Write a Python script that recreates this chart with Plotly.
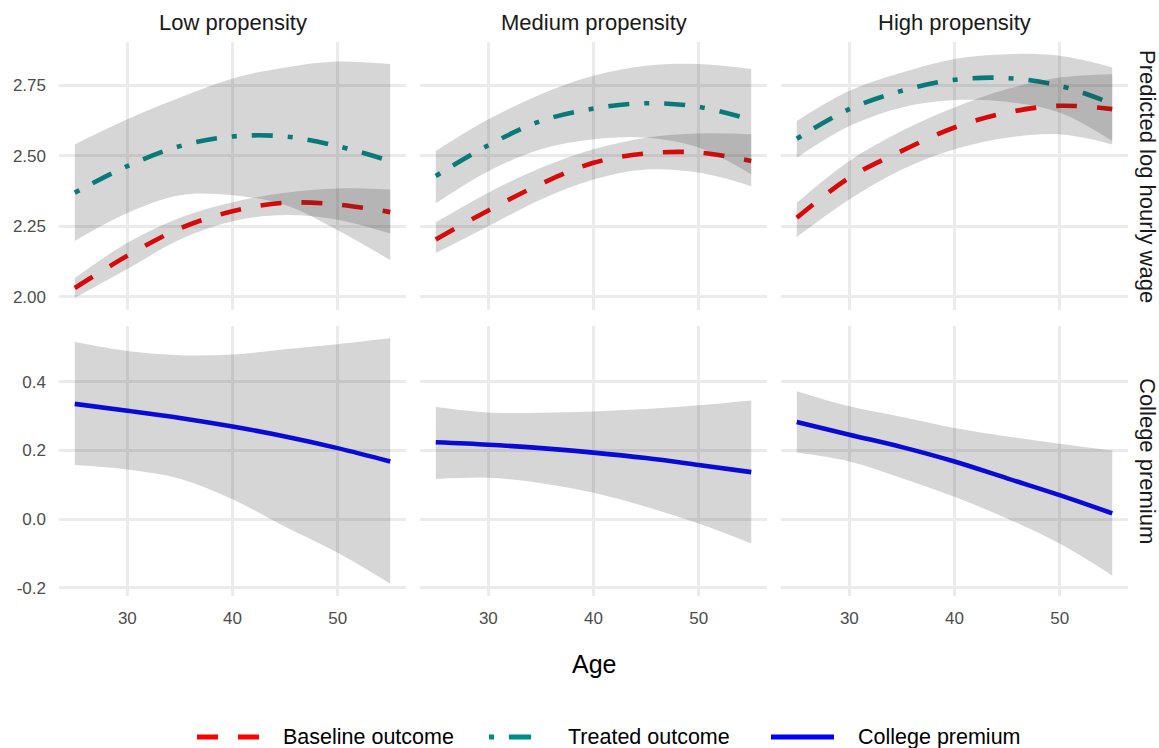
import plotly.graph_objects as go
from plotly.subplots import make_subplots

# ---- data -----------------------------------------------------------------
ages = [25, 30, 35, 40, 45, 50, 55]
groups = ["Low propensity", "Medium propensity", "High propensity"]
row_labels = ["Predicted log hourly wage", "College premium"]

# predicted log hourly wage without college (one list per propensity group)
baseline_fit = [
    [2.031, 2.145, 2.242, 2.303, 2.333, 2.327, 2.300],
    [2.203, 2.306, 2.400, 2.475, 2.508, 2.511, 2.481],
    [2.280, 2.422, 2.517, 2.600, 2.653, 2.677, 2.665],
]
baseline_lo = [
    [1.996, 2.098, 2.203, 2.268, 2.290, 2.273, 2.224],
    [2.155, 2.250, 2.345, 2.416, 2.451, 2.440, 2.392],
    [2.212, 2.345, 2.451, 2.523, 2.564, 2.576, 2.540],
]
baseline_hi = [
    [2.066, 2.191, 2.280, 2.335, 2.369, 2.384, 2.380],
    [2.264, 2.369, 2.457, 2.523, 2.564, 2.579, 2.576],
    [2.333, 2.481, 2.588, 2.671, 2.736, 2.777, 2.789],
]

# predicted log hourly wage with college
treated_fit = [
    [2.369, 2.463, 2.534, 2.568, 2.568, 2.534, 2.481],
    [2.428, 2.537, 2.623, 2.667, 2.686, 2.673, 2.627],
    [2.560, 2.665, 2.730, 2.769, 2.775, 2.748, 2.684],
]
treated_lo = [
    [2.198, 2.297, 2.360, 2.360, 2.325, 2.236, 2.130],
    [2.331, 2.445, 2.523, 2.558, 2.564, 2.529, 2.434],
    [2.493, 2.605, 2.671, 2.697, 2.691, 2.653, 2.552],
]
treated_hi = [
    [2.540, 2.629, 2.706, 2.774, 2.813, 2.834, 2.825],
    [2.517, 2.629, 2.718, 2.783, 2.819, 2.825, 2.807],
    [2.623, 2.730, 2.795, 2.843, 2.860, 2.854, 2.813],
]

# college premium (treated minus baseline)
premium_fit = [
    [0.336, 0.316, 0.295, 0.270, 0.241, 0.207, 0.168],
    [0.224, 0.217, 0.207, 0.194, 0.178, 0.158, 0.137],
    [0.283, 0.246, 0.210, 0.168, 0.119, 0.070, 0.017],
]
premium_lo = [
    [0.158, 0.145, 0.118, 0.058, -0.022, -0.098, -0.188],
    [0.117, 0.121, 0.105, 0.077, 0.036, -0.013, -0.071],
    [0.194, 0.168, 0.119, 0.065, 0.002, -0.071, -0.164],
]
premium_hi = [
    [0.516, 0.490, 0.478, 0.480, 0.495, 0.510, 0.527],
    [0.327, 0.311, 0.310, 0.314, 0.321, 0.332, 0.346],
    [0.373, 0.329, 0.298, 0.266, 0.241, 0.220, 0.200],
]

x_ticks = [30, 40, 50]
wage_ticks = [2.00, 2.25, 2.50, 2.75]
wage_ticktext = ["2.00", "2.25", "2.50", "2.75"]
premium_ticks = [-0.2, 0.0, 0.2, 0.4]
premium_ticktext = ["-0.2", "0.0", "0.2", "0.4"]

series_names = ["Baseline outcome", "Treated outcome", "College premium"]

# ---- styling ----------------------------------------------------------------
W, H = 1159, 748
FONT = "Liberation Sans, Arial, sans-serif"
RED, TEAL, BLUE = "#FF0000", "#008B8B", "#0000FF"
RIBBON = "rgba(51,51,51,0.2)"
GRID = "#EBEBEB"
LW = 4.6
DASH_RED = "21px,20px"
DASH_TEAL = "5px,15px,21px,15px"

col_px = [(59, 406), (420, 767), (781, 1128)]
row_px = [(42, 310), (326, 596)]


def xdom(c):
    return [col_px[c][0] / W, col_px[c][1] / W]


def ydom(r):
    return [1 - row_px[r][1] / H, 1 - row_px[r][0] / H]


fig = make_subplots(rows=2, cols=3)


def add_line(y, color, dash, row, col):
    fig.add_trace(
        go.Scatter(
            x=ages, y=y, mode="lines", showlegend=False, hoverinfo="skip",
            line=dict(color=color, width=LW, dash=dash, shape="spline"),
        ),
        row=row, col=col,
    )


def add_ribbon(lo, hi, row, col):
    fig.add_trace(
        go.Scatter(
            x=ages, y=lo, mode="lines", showlegend=False, hoverinfo="skip",
            line=dict(width=0, shape="spline", color="rgba(0,0,0,0)"),
        ),
        row=row, col=col,
    )
    fig.add_trace(
        go.Scatter(
            x=ages, y=hi, mode="lines", showlegend=False, hoverinfo="skip",
            fill="tonexty", fillcolor=RIBBON,
            line=dict(width=0, shape="spline", color="rgba(0,0,0,0)"),
        ),
        row=row, col=col,
    )


for c in range(3):
    # top row: predicted wages with confidence ribbons drawn over the lines
    add_line(baseline_fit[c], RED, DASH_RED, 1, c + 1)
    add_line(treated_fit[c], TEAL, DASH_TEAL, 1, c + 1)
    add_ribbon(baseline_lo[c], baseline_hi[c], 1, c + 1)
    add_ribbon(treated_lo[c], treated_hi[c], 1, c + 1)
    # bottom row: college premium
    add_line(premium_fit[c], BLUE, None, 2, c + 1)
    add_ribbon(premium_lo[c], premium_hi[c], 2, c + 1)

axis_common = dict(
    showgrid=True, gridcolor=GRID, gridwidth=3, zeroline=False,
    showline=False, ticks="", automargin=False,
    tickfont=dict(family=FONT, size=17, color="#4D4D4D"),
)

for r in range(2):
    for c in range(3):
        fig.update_xaxes(
            domain=xdom(c), range=[23.5, 56.5], tickvals=x_ticks,
            showticklabels=(r == 1), ticklabelstandoff=10,
            row=r + 1, col=c + 1, **axis_common,
        )
        if r == 0:
            fig.update_yaxes(
                domain=ydom(r), range=[1.953, 2.903], tickvals=wage_ticks,
                ticktext=wage_ticktext, showticklabels=(c == 0),
                ticklabelstandoff=12, row=r + 1, col=c + 1, **axis_common,
            )
        else:
            fig.update_yaxes(
                domain=ydom(r), range=[-0.224, 0.563], tickvals=premium_ticks,
                ticktext=premium_ticktext, showticklabels=(c == 0),
                ticklabelstandoff=12, row=r + 1, col=c + 1, **axis_common,
            )

annotations = []
# facet strips along the top
for c, g in enumerate(groups):
    annotations.append(dict(
        text=g, xref="paper", yref="paper",
        x=(col_px[c][0] + col_px[c][1]) / 2 / W, y=1 - 22 / H,
        xanchor="center", yanchor="middle", showarrow=False,
        font=dict(family=FONT, size=22, color="#1A1A1A"),
    ))
# facet strips along the right side
for r, lab in enumerate(row_labels):
    annotations.append(dict(
        text=lab, xref="paper", yref="paper",
        x=1148 / W, y=1 - (row_px[r][0] + row_px[r][1]) / 2 / H,
        xanchor="center", yanchor="middle", textangle=90, showarrow=False,
        font=dict(family=FONT, size=22, color="#1A1A1A"),
    ))
# shared x-axis title
annotations.append(dict(
    text="Age", xref="paper", yref="paper",
    x=(col_px[0][0] + col_px[2][1]) / 2 / W, y=1 - 664 / H,
    xanchor="center", yanchor="middle", showarrow=False,
    font=dict(family=FONT, size=25, color="#000000"),
))

# legend row at the bottom: key line followed by label
legend_y = 1 - 737 / H
legend_items = [
    (series_names[0], RED, DASH_RED, 197, 263, 281),
    (series_names[1], TEAL, "5px,15px,22px,15px", 489, 535, 566),
    (series_names[2], BLUE, "solid", 771, 834, 856),
]
shapes = []
for name, color, dash, k0, k1, tx in legend_items:
    shapes.append(dict(
        type="line", xref="paper", yref="paper",
        x0=k0 / W, x1=k1 / W, y0=legend_y, y1=legend_y,
        line=dict(color=color, width=LW + 0.4, dash=dash),
    ))
    annotations.append(dict(
        text=name, xref="paper", yref="paper", x=tx / W, y=legend_y,
        xanchor="left", yanchor="middle", showarrow=False,
        font=dict(family=FONT, size=21.5, color="#000000"),
    ))

fig.update_layout(
    template="none",
    width=W, height=H, autosize=False,
    margin=dict(l=0, r=0, t=0, b=0),
    paper_bgcolor="white", plot_bgcolor="white",
    showlegend=False,
    annotations=annotations, shapes=shapes,
    font=dict(family=FONT),
)

fig.write_html("out.html")
